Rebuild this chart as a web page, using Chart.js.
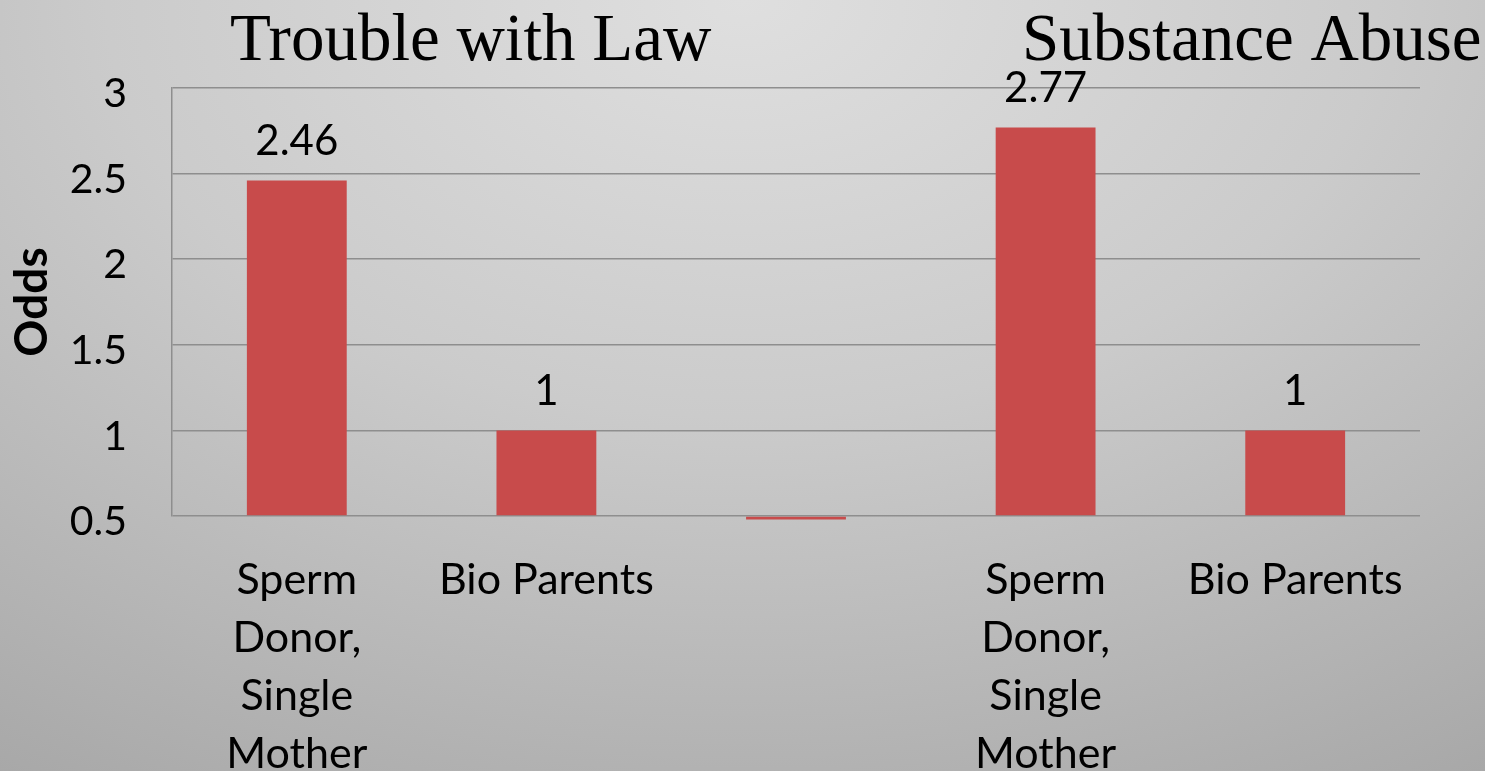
<!DOCTYPE html>
<html>
<head>
<meta charset="utf-8">
<script src="https://cdn.jsdelivr.net/npm/chart.js@4/dist/chart.umd.min.js"></script>
<style>
  html, body { margin: 0; padding: 0; }
  body {
    width: 1485px; height: 771px; overflow: hidden;
    background: radial-gradient(ellipse 95% 120% at 50% 0%, #dfdfdf 0%, #cbcbcb 45%, #a7a7a7 100%);
  }
  #wrap { position: relative; width: 1485px; height: 771px; }
</style>
</head>
<body>
<div id="wrap"><canvas id="c" width="1485" height="771"></canvas></div>
<script>
const categories = [["Sperm", "Donor,", "Single", "Mother"], "Bio Parents", "", ["Sperm", "Donor,", "Single", "Mother"], "Bio Parents"];
const odds = [2.46, 1, 0.48, 2.77, 1];
const valueLabels = ["2.46", "1", "", "2.77", "1"];
const yTicks = [0.5, 1, 1.5, 2, 2.5, 3];
const groupTitles = ["Trouble with Law", "Substance Abuse"];

const titlePlugin = {
  id: 'groupTitles',
  afterDraw(chart) {
    const ctx = chart.ctx;
    ctx.save();
    ctx.fillStyle = '#000';
    ctx.font = '67px "Liberation Serif", serif';
    ctx.textBaseline = 'alphabetic';
    ctx.textAlign = 'left';
    ctx.fillText(groupTitles[0], 230, 60);
    ctx.fillText(groupTitles[1], 1022, 60);
    ctx.restore();
  }
};

const valuePlugin = {
  id: 'valueLabels',
  afterDatasetsDraw(chart) {
    const ctx = chart.ctx;
    const meta = chart.getDatasetMeta(0);
    ctx.save();
    ctx.fillStyle = '#000';
    ctx.font = '42px Lato, sans-serif';
    ctx.textAlign = 'center';
    ctx.textBaseline = 'alphabetic';
    meta.data.forEach((bar, i) => {
      if (!valueLabels[i]) return;
      ctx.fillText(valueLabels[i], bar.x, bar.y - 25);
    });
    ctx.restore();
  }
};

new Chart(document.getElementById('c'), {
  type: 'bar',
  data: {
    labels: categories,
    datasets: [{
      data: odds,
      base: 0.5,
      backgroundColor: '#c84b4b',
      borderWidth: 0,
      categoryPercentage: 1,
      barPercentage: 0.4,
      clip: false
    }]
  },
  options: {
    responsive: false,
    animation: false,
    layout: { padding: { top: 88, right: 65, left: 0, bottom: 0 } },
    plugins: { legend: { display: false }, tooltip: { enabled: false } },
    scales: {
      x: {
        grid: { display: false, drawTicks: false },
        border: { display: false },
        ticks: {
          color: '#000',
          font: { family: 'Lato', size: 43, lineHeight: 1.35 },
          padding: 35,
          maxRotation: 0,
          autoSkip: false
        },
        afterFit(axis) { axis.height = 255; }
      },
      y: {
        min: 0.5, max: 3,
        afterBuildTicks(axis) { axis.ticks = yTicks.map(v => ({ value: v })); },
        grid: { color: '#8e8e8e', lineWidth: 1.5, drawTicks: false },
        border: { display: true, color: '#8e8e8e', width: 1.5 },
        ticks: {
          color: '#000',
          font: { family: 'Lato', size: 41 },
          padding: 45,
          labelOffset: 6,
          callback: v => String(v)
        },
        title: {
          display: true,
          text: 'Odds',
          color: '#000',
          font: { family: 'Lato', size: 46, weight: 'bold', lineHeight: 1.2 },
          padding: { top: 5, bottom: 0 }
        },
        afterFit(axis) { axis.width = 172; }
      }
    }
  },
  plugins: [titlePlugin, valuePlugin]
});
</script>
</body>
</html>
